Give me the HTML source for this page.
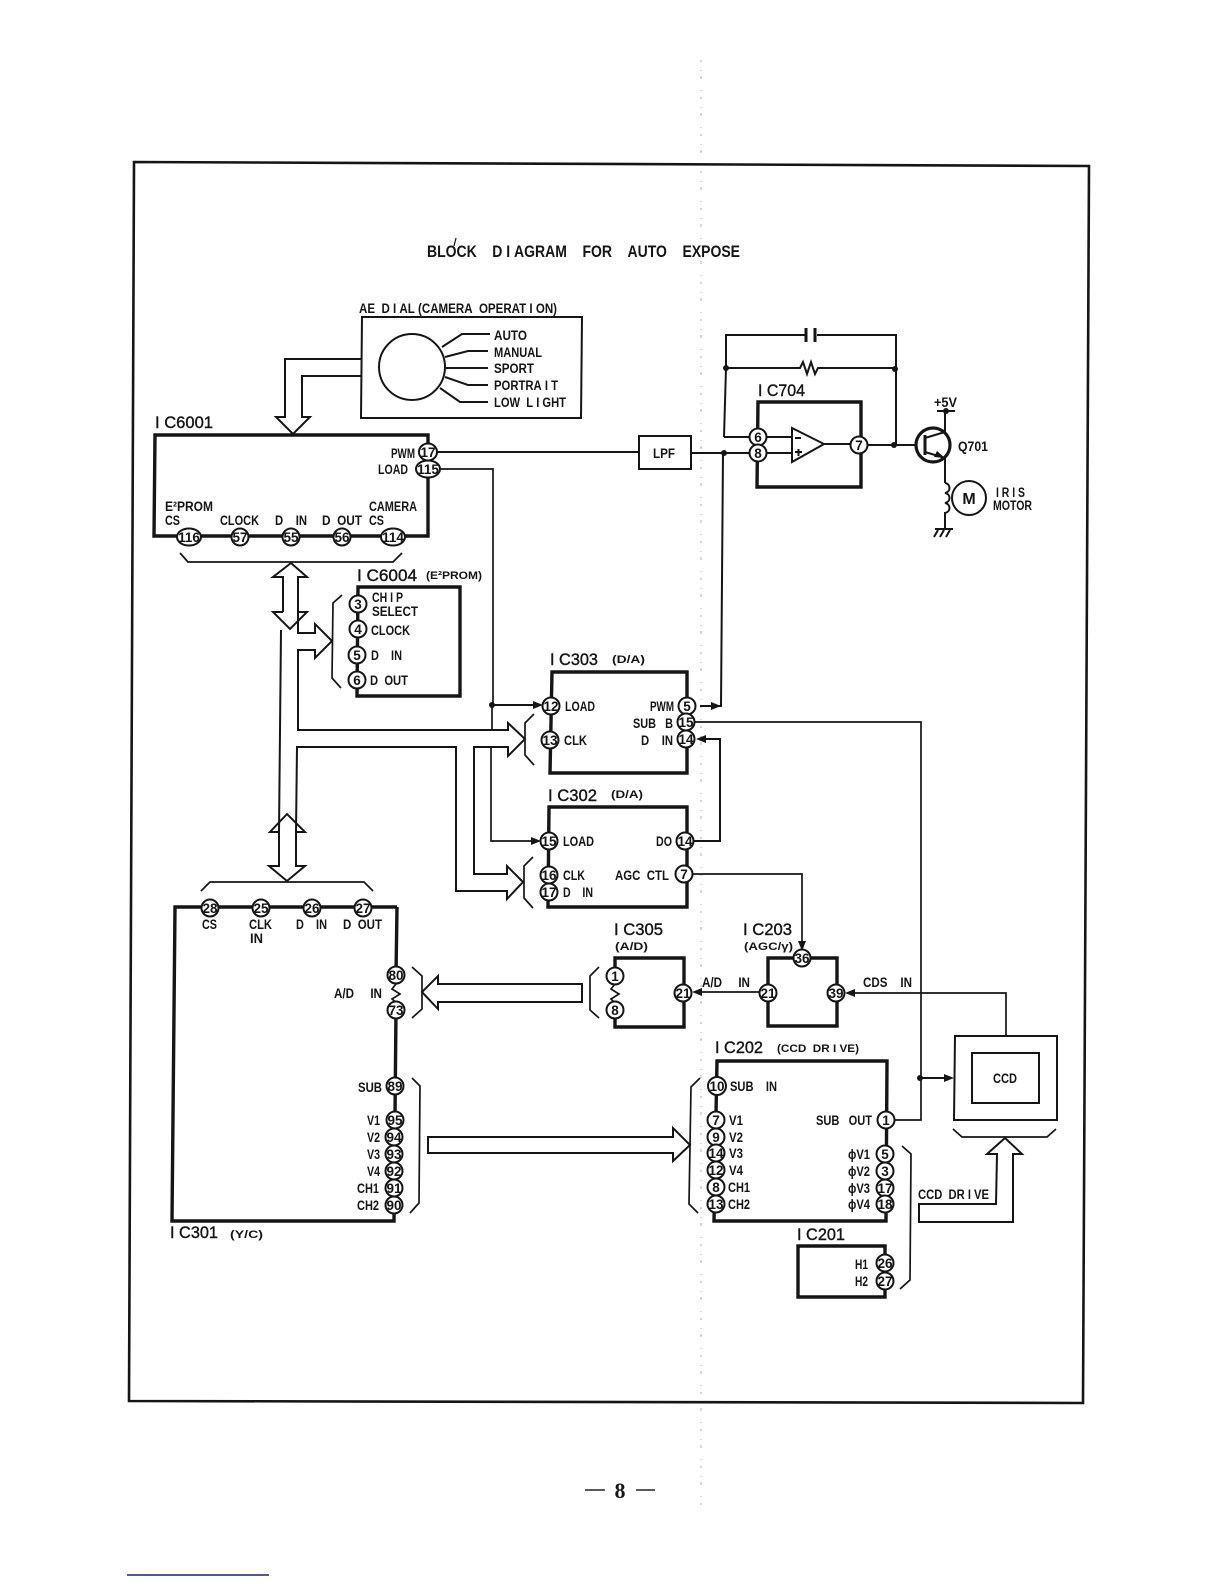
<!DOCTYPE html>
<html>
<head>
<meta charset="utf-8">
<title>Block Diagram for Auto Expose</title>
<style>
html,body{margin:0;padding:0;background:#fff;width:1224px;height:1584px;overflow:hidden}
svg{display:block}
text{font-family:"Liberation Sans",sans-serif;font-weight:bold;font-size:13.5px;fill:#151515}
.ic{font-size:17px;font-weight:normal;stroke:#151515;stroke-width:.4}
.s{font-size:11px}
.t{font-size:17px}
.n{font-size:13.5px;text-anchor:middle;font-weight:bold}
.w{fill:#fff;stroke:#151515;stroke-width:2}
.b{fill:none;stroke:#151515;stroke-width:3.4}
.m{fill:none;stroke:#151515;stroke-width:2}
.f{fill:none;stroke:#151515;stroke-width:1.7}
.a{fill:#151515;stroke:none}
</style>
</head>
<body>
<svg width="1224" height="1584" viewBox="0 0 1224 1584" xmlns="http://www.w3.org/2000/svg">
<!-- scan centre fold -->
<path d="M701 60V1510" fill="none" stroke="#bbb" stroke-width="1.2" stroke-dasharray="2 8 1 5 3 11 1 6"/>
<!-- page frame -->
<path d="M134 162L1089 166L1083 1403L129 1401Z" fill="none" stroke="#151515" stroke-width="2.6"/>
<path d="M127 1575H269" stroke="#1a1a90" stroke-width="1.4"/>
<path d="M585 1490H605M636 1490H655" stroke="#222" stroke-width="1.6"/>
<text x="620" y="1498" text-anchor="middle" style="font-family:'Liberation Serif',serif;font-size:22px;font-weight:bold">8</text>

<text class="t" x="427" y="257" textLength="313" lengthAdjust="spacingAndGlyphs">BLOCK&#160;&#160;&#160;&#160;D&#160;I&#160;AGRAM&#160;&#160;&#160;&#160;FOR&#160;&#160;&#160;&#160;AUTO&#160;&#160;&#160;&#160;EXPOSE</text>
<path d="M456 238L454 246" stroke="#151515" stroke-width="1.2"/>

<!-- AE dial -->
<text x="359" y="313" textLength="198" lengthAdjust="spacingAndGlyphs">AE&#160;&#160;D&#160;I&#160;AL&#160;(CAMERA&#160;&#160;OPERAT&#160;I&#160;ON)</text>
<path class="m" d="M362 317H582L581 418H361Z"/>
<circle class="w" cx="412" cy="367" r="33"/>
<path class="m" d="M442 347L462 334H490M445 357L468 351H488M446 368H488M445 377L468 385H488M440 388L460 402H488"/>
<text x="494" y="340" textLength="33" lengthAdjust="spacingAndGlyphs">AUTO</text>
<text x="494" y="357" textLength="48" lengthAdjust="spacingAndGlyphs">MANUAL</text>
<text x="494" y="373" textLength="40" lengthAdjust="spacingAndGlyphs">SPORT</text>
<text x="494" y="390" textLength="64" lengthAdjust="spacingAndGlyphs">PORTRA&#160;I&#160;T</text>
<text x="494" y="407" textLength="72" lengthAdjust="spacingAndGlyphs">LOW&#160;&#160;L&#160;I&#160;GHT</text>
<path class="m" d="M362 359H285V417H276L293 434L310 417H302V376H362"/>

<!-- IC6001 -->
<text class="ic" x="155" y="428" textLength="58" lengthAdjust="spacingAndGlyphs">I&#160;C6001</text>
<path class="b" d="M155 435H428V536H154Z"/>
<path class="m" d="M437 452H639"/>
<path class="f" d="M440 469H493V705"/>
<ellipse class="w" cx="428" cy="452" rx="9" ry="8.5"/><text class="n" x="428" y="457">17</text>
<ellipse class="w" cx="428" cy="469" rx="12" ry="8.5"/><text class="n" x="428" y="474">115</text>
<text x="391" y="458" textLength="24" lengthAdjust="spacingAndGlyphs">PWM</text>
<text x="378" y="474" textLength="30" lengthAdjust="spacingAndGlyphs">LOAD</text>
<text x="165" y="511" textLength="48" lengthAdjust="spacingAndGlyphs">E²PROM</text>
<text x="165" y="525" textLength="15" lengthAdjust="spacingAndGlyphs">CS</text>
<text x="220" y="525" textLength="39" lengthAdjust="spacingAndGlyphs">CLOCK</text>
<text x="275" y="525" textLength="32" lengthAdjust="spacingAndGlyphs">D&#160;&#160;&#160;&#160;IN</text>
<text x="322" y="525" textLength="40" lengthAdjust="spacingAndGlyphs">D&#160;&#160;OUT</text>
<text x="369" y="525" textLength="15" lengthAdjust="spacingAndGlyphs">CS</text>
<text x="369" y="511" textLength="48" lengthAdjust="spacingAndGlyphs">CAMERA</text>
<ellipse class="w" cx="189" cy="537" rx="12" ry="8.5"/><text class="n" x="189" y="542">116</text>
<circle class="w" cx="240" cy="537" r="8.5"/><text class="n" x="240" y="542">57</text>
<circle class="w" cx="291" cy="537" r="8.5"/><text class="n" x="291" y="542">55</text>
<circle class="w" cx="342" cy="537" r="8.5"/><text class="n" x="342" y="542">56</text>
<ellipse class="w" cx="393" cy="537" rx="12" ry="8.5"/><text class="n" x="393" y="542">114</text>
<path class="f" d="M180 553L188 562H393L402 553"/>

<!-- bus arrows -->
<path class="m" d="M283 612V577H273L291 563L307 577H298V612"/>
<path class="m" d="M283 612H273L290 629L307 612H298"/>
<path class="m" d="M298 612V633H315V624L332 641L315 658V650H298V730H508V723L525 739L508 756V747H474V874H507V866L523 882L507 899V891H456V747H297L296 832"/>
<path class="m" d="M281 630L279 832"/>
<path class="m" d="M279 832H270L287 814L305 832H296V866H305L287 881L269 866H279Z"/>
<path class="f" d="M201 891L210 882H364L373 891"/>

<!-- IC6004 -->
<text class="ic" x="357" y="581" textLength="60" lengthAdjust="spacingAndGlyphs">I&#160;C6004</text>
<text class="s" x="426" y="579" textLength="56" lengthAdjust="spacingAndGlyphs">(E²PROM)</text>
<path class="b" d="M358 587H460V696H357Z"/>
<path class="f" d="M342 595L333 603L332 678L341 688"/>
<circle class="w" cx="358" cy="604" r="8.5"/><text class="n" x="358" y="609">3</text>
<circle class="w" cx="358" cy="629" r="8.5"/><text class="n" x="358" y="634">4</text>
<circle class="w" cx="357" cy="655" r="8.5"/><text class="n" x="357" y="660">5</text>
<circle class="w" cx="357" cy="680" r="8.5"/><text class="n" x="357" y="685">6</text>
<text x="372" y="602" textLength="31" lengthAdjust="spacingAndGlyphs">CH&#160;I&#160;P</text>
<text x="372" y="616" textLength="46" lengthAdjust="spacingAndGlyphs">SELECT</text>
<text x="371" y="635" textLength="39" lengthAdjust="spacingAndGlyphs">CLOCK</text>
<text x="371" y="660" textLength="31" lengthAdjust="spacingAndGlyphs">D&#160;&#160;&#160;&#160;IN</text>
<text x="370" y="685" textLength="38" lengthAdjust="spacingAndGlyphs">D&#160;&#160;OUT</text>

<!-- LPF + IC704 -->
<path class="m" d="M639 436H691V469H639Z"/>
<text x="653" y="458" textLength="22" lengthAdjust="spacingAndGlyphs">LPF</text>
<path class="m" d="M691 453H750M723 453L721 706H700"/>
<path class="a" d="M721 706L711 702V710Z"/>
<circle class="a" cx="724" cy="453" r="3"/>
<path class="m" d="M726 368V335H805M817 335H896V445M724 437H750M726 368L724 437"/>
<path d="M806 328V342M815 328V342" stroke="#151515" stroke-width="3"/>
<path class="m" d="M726 368H800L803 362L807 374L811 362L815 374L818 368H895"/>
<circle class="a" cx="726" cy="368" r="3"/><circle class="a" cx="895" cy="369" r="3"/>
<text class="ic" x="758" y="396" textLength="47" lengthAdjust="spacingAndGlyphs">I&#160;C704</text>
<path class="b" d="M758 402H861V487H757Z"/>
<path class="m" d="M766 437H792M766 453H792M824 444H851M867 445H917"/>
<path class="w" d="M792 428L824 444L792 462Z"/>
<path class="m" d="M795 438H801M795 452H802M798.500 449V456"/>
<circle class="w" cx="758" cy="437" r="8.500"/><text class="n" x="758" y="442">6</text>
<circle class="w" cx="758" cy="453" r="8.500"/><text class="n" x="758" y="458">8</text>
<circle class="w" cx="859" cy="445" r="8.500"/><text class="n" x="859" y="450">7</text>
<circle class="a" cx="894" cy="445" r="3"/>
<circle cx="933" cy="445" r="17" fill="none" stroke="#151515" stroke-width="3.2"/>
<path d="M925 435V455" stroke="#151515" stroke-width="3"/>
<path class="m" d="M925 438L945 432V412M925 452L945 458V483"/>
<path class="a" d="M945 458L937 451L934 457Z"/>
<path class="m" d="M937 411H955"/><circle class="a" cx="946" cy="411" r="3"/>
<text x="934" y="407" textLength="23" lengthAdjust="spacingAndGlyphs">+5V</text>
<text x="958" y="451" textLength="30" lengthAdjust="spacingAndGlyphs">Q701</text>
<path class="m" d="M945 483c6 1 6 9 0 10c6 1 6 9 0 10c6 1 6 9 0 10V528"/>
<path class="m" d="M935 529H953M938 530L934 537M944 530L940 537M950 530L946 537"/>
<circle class="m" cx="969" cy="498" r="17"/>
<text x="969" y="504" text-anchor="middle" style="font-size:16px">M</text>
<text x="996" y="497" textLength="29" lengthAdjust="spacingAndGlyphs">I&#160;R&#160;I&#160;S</text>
<text x="993" y="510" textLength="39" lengthAdjust="spacingAndGlyphs">MOTOR</text>

<!-- IC303 -->
<text class="ic" x="550" y="665" textLength="48" lengthAdjust="spacingAndGlyphs">I&#160;C303</text>
<text class="s" x="612" y="663" textLength="33" lengthAdjust="spacingAndGlyphs">(D/A)</text>
<path class="b" d="M552 672H687V773H550Z"/>
<path class="f" d="M534 714L525 723V755L534 765"/>
<path class="m" d="M492 705H535"/>
<path class="a" d="M543 705L533 701V709Z"/>
<circle class="a" cx="492" cy="705" r="3"/>
<path class="f" d="M492 705V730M491 747V841H533"/>
<path class="a" d="M541 841L531 837V845Z"/>
<circle class="w" cx="551" cy="706" r="8.500"/><text class="n" x="551" y="711">12</text>
<circle class="w" cx="550" cy="740" r="8.500"/><text class="n" x="550" y="745">13</text>
<circle class="w" cx="687" cy="706" r="8.500"/><text class="n" x="687" y="711">5</text>
<circle class="w" cx="686" cy="722" r="8.500"/><text class="n" x="686" y="727">15</text>
<circle class="w" cx="686" cy="739" r="8.500"/><text class="n" x="686" y="744">14</text>
<text x="565" y="711" textLength="30" lengthAdjust="spacingAndGlyphs">LOAD</text>
<text x="564" y="745" textLength="23" lengthAdjust="spacingAndGlyphs">CLK</text>
<text x="650" y="711" textLength="24" lengthAdjust="spacingAndGlyphs">PWM</text>
<text x="633" y="728" textLength="40" lengthAdjust="spacingAndGlyphs">SUB&#160;&#160;&#160;B</text>
<text x="641" y="745" textLength="32" lengthAdjust="spacingAndGlyphs">D&#160;&#160;&#160;&#160;IN</text>
<path class="f" d="M695 722H921V1120H895"/>
<path class="m" d="M704 739H720V841H694"/>
<path class="a" d="M696 739L706 735V743Z"/>

<!-- IC302 -->
<text class="ic" x="548" y="801" textLength="49" lengthAdjust="spacingAndGlyphs">I&#160;C302</text>
<text class="s" x="611" y="798" textLength="32" lengthAdjust="spacingAndGlyphs">(D/A)</text>
<path class="b" d="M549 807H687V907H548Z"/>
<path class="f" d="M533 857L524 866V898L533 908"/>
<circle class="w" cx="549" cy="841" r="8.500"/><text class="n" x="549" y="846">15</text>
<circle class="w" cx="549" cy="875" r="8.500"/><text class="n" x="549" y="880">16</text>
<circle class="w" cx="549" cy="892" r="8.500"/><text class="n" x="549" y="897">17</text>
<circle class="w" cx="685" cy="841" r="8.500"/><text class="n" x="685" y="846">14</text>
<circle class="w" cx="684" cy="874" r="8.500"/><text class="n" x="684" y="879">7</text>
<text x="563" y="846" textLength="31" lengthAdjust="spacingAndGlyphs">LOAD</text>
<text x="563" y="880" textLength="22" lengthAdjust="spacingAndGlyphs">CLK</text>
<text x="563" y="897" textLength="30" lengthAdjust="spacingAndGlyphs">D&#160;&#160;&#160;&#160;IN</text>
<text x="656" y="846" textLength="16" lengthAdjust="spacingAndGlyphs">DO</text>
<text x="615" y="880" textLength="54" lengthAdjust="spacingAndGlyphs">AGC&#160;&#160;CTL</text>
<path class="f" d="M693 874H802V942"/>
<path class="a" d="M802 951L798 941H806Z"/>

<!-- IC301 -->
<path class="b" d="M397 907H175L172 1221H394L396 1010M396 975L397 907"/>
<path class="f" d="M396 984L392 989L400 994L392 999L398 1004"/>
<circle class="w" cx="210" cy="908" r="8.500"/><text class="n" x="210" y="913">28</text>
<circle class="w" cx="261" cy="908" r="8.500"/><text class="n" x="261" y="913">25</text>
<circle class="w" cx="312" cy="908" r="8.500"/><text class="n" x="312" y="913">26</text>
<circle class="w" cx="363" cy="908" r="8.500"/><text class="n" x="363" y="913">27</text>
<text x="202" y="929" textLength="15" lengthAdjust="spacingAndGlyphs">CS</text>
<text x="249" y="929" textLength="23" lengthAdjust="spacingAndGlyphs">CLK</text>
<text x="250" y="943" textLength="13" lengthAdjust="spacingAndGlyphs">IN</text>
<text x="296" y="929" textLength="31" lengthAdjust="spacingAndGlyphs">D&#160;&#160;&#160;&#160;IN</text>
<text x="343" y="929" textLength="39" lengthAdjust="spacingAndGlyphs">D&#160;&#160;OUT</text>
<circle class="w" cx="396" cy="975" r="8.500"/><text class="n" x="396" y="980">80</text>
<circle class="w" cx="396" cy="1010" r="8.500"/><text class="n" x="396" y="1015">73</text>
<text x="334" y="998" textLength="48" lengthAdjust="spacingAndGlyphs">A/D&#160;&#160;&#160;&#160;&#160;IN</text>
<path class="f" d="M412 967L422 976V1009L412 1018"/>
<path class="m" d="M582 984H438V976L422 992L438 1009V1002H582Z"/>
<path class="f" d="M599 967L590 976V1010L599 1018"/>
<circle class="w" cx="395" cy="1086" r="8.500"/><text class="n" x="395" y="1091">89</text>
<circle class="w" cx="395" cy="1120" r="8.500"/><text class="n" x="395" y="1125">95</text>
<circle class="w" cx="394" cy="1137" r="8.500"/><text class="n" x="394" y="1142">94</text>
<circle class="w" cx="394" cy="1154" r="8.500"/><text class="n" x="394" y="1159">93</text>
<circle class="w" cx="394" cy="1171" r="8.500"/><text class="n" x="394" y="1176">92</text>
<circle class="w" cx="394" cy="1188" r="8.500"/><text class="n" x="394" y="1193">91</text>
<circle class="w" cx="394" cy="1205" r="8.500"/><text class="n" x="394" y="1210">90</text>
<text x="358" y="1092" textLength="24" lengthAdjust="spacingAndGlyphs">SUB</text>
<text x="367" y="1125" textLength="13" lengthAdjust="spacingAndGlyphs">V1</text>
<text x="367" y="1142" textLength="13" lengthAdjust="spacingAndGlyphs">V2</text>
<text x="367" y="1159" textLength="13" lengthAdjust="spacingAndGlyphs">V3</text>
<text x="367" y="1176" textLength="13" lengthAdjust="spacingAndGlyphs">V4</text>
<text x="357" y="1193" textLength="22" lengthAdjust="spacingAndGlyphs">CH1</text>
<text x="357" y="1210" textLength="22" lengthAdjust="spacingAndGlyphs">CH2</text>
<path class="f" d="M412 1078L420 1086L419 1203L410 1213"/>
<text class="ic" x="170" y="1238" textLength="48" lengthAdjust="spacingAndGlyphs">I&#160;C301</text>
<text class="s" x="230" y="1238" textLength="33" lengthAdjust="spacingAndGlyphs">(Y/C)</text>
<path class="m" d="M428 1137H673V1128L690 1145L673 1161V1153H428Z"/>

<!-- IC305 -->
<text class="ic" x="614" y="935" textLength="49" lengthAdjust="spacingAndGlyphs">I&#160;C305</text>
<text class="s" x="615" y="950" textLength="33" lengthAdjust="spacingAndGlyphs">(A/D)</text>
<path class="b" d="M615 976V958H684V1027H615V1010"/>
<path class="f" d="M615 984L611 989L619 994L611 999L616 1004"/>
<circle class="w" cx="615" cy="976" r="8.500"/><text class="n" x="615" y="981">1</text>
<circle class="w" cx="615" cy="1010" r="8.500"/><text class="n" x="615" y="1015">8</text>
<circle class="w" cx="683" cy="993" r="8.500"/><text class="n" x="683" y="998">21</text>
<path class="f" d="M760 992H698"/>
<path class="a" d="M692 992L702 988V996Z"/>
<text x="702" y="987" textLength="48" lengthAdjust="spacingAndGlyphs">A/D&#160;&#160;&#160;&#160;&#160;IN</text>

<!-- IC203 -->
<text class="ic" x="743" y="935" textLength="49" lengthAdjust="spacingAndGlyphs">I&#160;C203</text>
<text class="s" x="744" y="950" textLength="49" lengthAdjust="spacingAndGlyphs">(AGC/γ)</text>
<path class="b" d="M768 958H837V1026H768Z"/>
<circle class="w" cx="802" cy="958" r="8.500"/><text class="n" x="802" y="963">36</text>
<circle class="w" cx="768" cy="993" r="8.500"/><text class="n" x="768" y="998">21</text>
<circle class="w" cx="836" cy="993" r="8.500"/><text class="n" x="836" y="998">39</text>
<text x="863" y="987" textLength="49" lengthAdjust="spacingAndGlyphs">CDS&#160;&#160;&#160;&#160;IN</text>
<path class="f" d="M1006 1036V993H851"/>
<path class="a" d="M845 993L855 989V997Z"/>

<!-- IC202 -->
<text class="ic" x="715" y="1053" textLength="48" lengthAdjust="spacingAndGlyphs">I&#160;C202</text>
<text class="s" x="777" y="1052" textLength="82" lengthAdjust="spacingAndGlyphs">(CCD&#160;&#160;DR&#160;I&#160;VE)</text>
<path class="b" d="M717 1061H887L886 1221H714Z"/>
<path class="f" d="M700 1078L691 1087L689 1204L698 1213"/>
<circle class="w" cx="717" cy="1086" r="9"/><text class="n" x="717" y="1091">10</text>
<circle class="w" cx="716" cy="1120" r="8.500"/><text class="n" x="716" y="1125">7</text>
<circle class="w" cx="716" cy="1137" r="8.500"/><text class="n" x="716" y="1142">9</text>
<circle class="w" cx="716" cy="1153" r="8.500"/><text class="n" x="716" y="1158">14</text>
<circle class="w" cx="716" cy="1170" r="8.500"/><text class="n" x="716" y="1175">12</text>
<circle class="w" cx="716" cy="1187" r="8.500"/><text class="n" x="716" y="1192">8</text>
<circle class="w" cx="716" cy="1204" r="8.500"/><text class="n" x="716" y="1209">13</text>
<circle class="w" cx="886" cy="1120" r="8.500"/><text class="n" x="886" y="1125">1</text>
<circle class="w" cx="885" cy="1154" r="8.500"/><text class="n" x="885" y="1159">5</text>
<circle class="w" cx="885" cy="1171" r="8.500"/><text class="n" x="885" y="1176">3</text>
<circle class="w" cx="885" cy="1188" r="8.500"/><text class="n" x="885" y="1193">17</text>
<circle class="w" cx="885" cy="1204" r="8.500"/><text class="n" x="885" y="1209">18</text>
<text x="730" y="1091" textLength="47" lengthAdjust="spacingAndGlyphs">SUB&#160;&#160;&#160;&#160;IN</text>
<text x="729" y="1125" textLength="14" lengthAdjust="spacingAndGlyphs">V1</text>
<text x="729" y="1142" textLength="14" lengthAdjust="spacingAndGlyphs">V2</text>
<text x="729" y="1158" textLength="14" lengthAdjust="spacingAndGlyphs">V3</text>
<text x="729" y="1175" textLength="14" lengthAdjust="spacingAndGlyphs">V4</text>
<text x="728" y="1192" textLength="22" lengthAdjust="spacingAndGlyphs">CH1</text>
<text x="728" y="1209" textLength="22" lengthAdjust="spacingAndGlyphs">CH2</text>
<text x="816" y="1125" textLength="56" lengthAdjust="spacingAndGlyphs">SUB&#160;&#160;&#160;OUT</text>
<text x="848" y="1159" textLength="22" lengthAdjust="spacingAndGlyphs">ϕV1</text>
<text x="848" y="1176" textLength="22" lengthAdjust="spacingAndGlyphs">ϕV2</text>
<text x="848" y="1193" textLength="22" lengthAdjust="spacingAndGlyphs">ϕV3</text>
<text x="848" y="1209" textLength="22" lengthAdjust="spacingAndGlyphs">ϕV4</text>
<path class="f" d="M902 1146L911 1154L910 1280L900 1289"/>

<!-- IC201 -->
<text class="ic" x="797" y="1240" textLength="48" lengthAdjust="spacingAndGlyphs">I&#160;C201</text>
<path class="b" d="M798 1246H885V1297H798Z"/>
<circle class="w" cx="885" cy="1263" r="8.500"/><text class="n" x="885" y="1268">26</text>
<circle class="w" cx="885" cy="1281" r="8.500"/><text class="n" x="885" y="1286">27</text>
<text x="855" y="1269" textLength="13" lengthAdjust="spacingAndGlyphs">H1</text>
<text x="855" y="1286" textLength="13" lengthAdjust="spacingAndGlyphs">H2</text>

<!-- CCD -->
<path class="m" d="M955 1036H1057V1120H954Z"/>
<path class="m" d="M972 1053H1039V1103H972Z"/>
<text x="993" y="1083" textLength="24" lengthAdjust="spacingAndGlyphs">CCD</text>
<path class="m" d="M920 1078H945"/>
<circle class="a" cx="920" cy="1078" r="3"/>
<path class="a" d="M954 1078L944 1074V1082Z"/>
<path class="f" d="M953 1129L962 1137H1047L1056 1129"/>
<path class="m" d="M1005 1138L987 1154H997L996 1204H919V1222H1013V1154H1022Z"/>
<text x="918" y="1199" textLength="71" lengthAdjust="spacingAndGlyphs">CCD&#160;&#160;DR&#160;I&#160;VE</text>
</svg>
</body>
</html>
